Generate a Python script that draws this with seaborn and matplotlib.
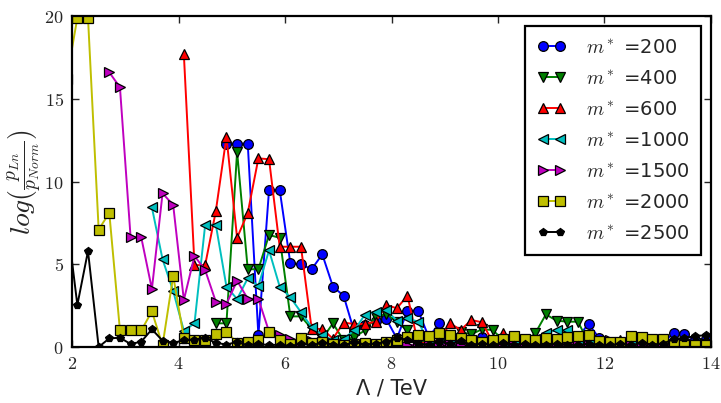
import numpy as np
import pandas as pd
import matplotlib
matplotlib.use("Agg")
import matplotlib.pyplot as plt
import seaborn as sns

# Lambda scan grid (TeV); each mass point starts at its own first Lambda
lam_start = {200: 4.9, 400: 4.7, 600: 4.1, 1000: 3.5, 1500: 2.7, 2000: 1.9, 2500: 1.9}

llr_200 = [12.3, 12.3, 12.3, 0.7, 9.5, 9.5, 5.06, 5.0, 4.7, 5.6, 3.65, 3.1, 0.93, 1.3,
           1.6, 1.7, 0.52, 2.2, 2.2, 0.6, 1.43, 0.3, 0.25, 0.4, 0.6, 0.2, 0.3, 0.2, 0.25,
           0.2, 0.3, 0.2, 0.25, 0.6, 1.39, 0.54, 0.3, 0.2, 0.25, 0.3, 0.2, 0.25, 0.86,
           0.77, 0.4, 0.5]
llr_400 = [1.43, 1.43, 11.8, 4.7, 4.7, 6.77, 6.6, 1.85, 1.85, 1.1, 0.5, 1.43, 0.4, 0.6,
           1.0, 1.8, 2.0, 1.5, 1.0, 0.3, 0.3, 0.4, 0.6, 0.9, 0.77, 1.07, 1.03, 0.4, 0.3,
           0.3, 0.83, 1.97, 1.59, 1.53, 1.53, 0.3, 0.2, 0.15, 0.2, 0.15, 0.2, 0.15, 0.2,
           0.15, 0.2, 0.15, 0.2]
llr_600 = [17.7, 4.95, 4.95, 8.2, 12.7, 6.6, 8.1, 11.4, 11.35, 6.06, 6.06, 6.06, 1.1,
           1.09, 0.5, 1.47, 1.39, 1.39, 1.53, 2.54, 2.34, 3.1, 0.2, 0.3, 0.4, 1.43, 1.03,
           1.63, 1.49, 0.3, 0.86, 0.2, 0.3, 0.2, 0.3, 0.25, 0.2, 0.3, 0.2, 0.25, 0.3,
           0.4, 0.5, 0.3, 0.2, 0.25, 0.2, 0.3, 0.2, 0.2]
llr_1000 = [8.44, 5.3, 3.38, 0.98, 1.43, 7.37, 7.4, 3.65, 2.9, 4.15, 3.7, 5.84, 3.65,
            3.0, 2.1, 1.2, 0.73, 0.4, 0.5, 1.0, 1.95, 2.13, 2.24, 1.59, 1.73, 1.53, 0.3,
            0.2, 0.2, 0.25, 0.2, 0.3, 0.2, 0.25, 0.3, 0.2, 0.5, 0.86, 1.0, 1.0, 0.4, 0.3,
            0.25, 0.2, 0.25, 0.2, 0.3, 0.2, 0.25, 0.2, 0.2, 0.25, 0.2, 0.2]
llr_1500 = [16.6, 15.7, 6.63, 6.63, 3.5, 9.29, 8.58, 2.84, 5.5, 4.65, 2.74, 2.6, 4.0,
            2.92, 2.9, 0.93, 0.75, 0.5, 0.3, 0.35, 0.2, 0.25, 0.15, 0.2, 0.1, 0.2, 0.15,
            0.2, 0.1, 0.15, 0.2, 0.1, 0.2, 0.15, 0.1, 0.2, 0.4, 0.2, 0.15, 0.1, 0.2, 0.15,
            0.1, 0.2, 0.15, 0.1, 0.2, 0.4, 0.2, 0.15, 0.1, 0.2, 0.15, 0.1, 0.1, 0.1, 0.1,
            0.1]
llr_2000 = [16.2, 19.9, 19.9, 7.1, 8.1, 1.0, 1.0, 1.0, 2.15, 0.1, 4.3, 0.55, 0.4, 0.4,
            0.8, 0.93, 0.25, 0.28, 0.42, 0.93, 0.45, 0.2, 0.52, 0.25, 0.3, 0.2, 0.15, 0.2,
            0.25, 0.2, 0.3, 0.42, 0.62, 0.72, 0.66, 0.83, 0.72, 0.52, 0.45, 0.3, 0.4, 0.5,
            0.66, 0.5, 0.45, 0.52, 0.5, 0.62, 0.68, 0.72, 0.35, 0.3, 0.3, 0.66, 0.6, 0.5,
            0.5, 0.2, 0.15, 0.15, 0.15]
llr_2500 = [7.8, 2.54, 5.8, 0.0, 0.52, 0.56, 0.18, 0.32, 1.07, 0.38, 0.25, 0.4, 0.45,
            0.55, 0.25, 0.15, 0.3, 0.1, 0.2, 0.1, 0.15, 0.05, 0.2, 0.1, 0.25, 0.15, 0.1,
            0.3, 0.15, 0.2, 0.3, 0.52, 0.45, 0.2, 0.15, 0.3, 0.2, 0.35, 0.15, 0.2, 0.1,
            0.25, 0.15, 0.2, 0.15, 0.1, 0.2, 0.15, 0.1, 0.2, 0.15, 0.1, 0.2, 0.1, 0.25,
            0.15, 0.2, 0.48, 0.55, 0.65, 0.72]

masses = [200, 400, 600, 1000, 1500, 2000, 2500]
series = [llr_200, llr_400, llr_600, llr_1000, llr_1500, llr_2000, llr_2500]
colors = ["#0000ff", "#008000", "#ff0000", "#00bfbf", "#bf00bf", "#bfbf00", "#000000"]
markers = ["o", "v", "^", "<", ">", "s", "p"]
msizes = [7, 7, 7, 7, 7, 7, 5.5]

x_ticks = [2, 4, 6, 8, 10, 12, 14]
y_ticks = [0, 5, 10, 15, 20]

sns.set_style("ticks")
plt.rcParams["font.family"] = ["DejaVu Sans"]
plt.rcParams["mathtext.fontset"] = "cm"

fig = plt.figure(figsize=(7.21, 4.03), dpi=100)
ax = fig.add_axes([0.0999, 0.139, 0.8862, 0.821])

for m, vals, c, mk, ms in zip(masses, series, colors, markers, msizes):
    lam = np.round(lam_start[m] + 0.2 * np.arange(len(vals)), 1)
    df = pd.DataFrame({"Lambda": lam, "llr": vals})
    sns.lineplot(data=df, x="Lambda", y="llr", ax=ax, color=c, marker=mk,
                 markersize=ms, markeredgecolor="k", markeredgewidth=0.9,
                 linewidth=1.4, label=r"$m^*$ =" + str(m))

ax.set_xlim(2, 14)
ax.set_ylim(0, 20)
ax.set_xticks(x_ticks)
ax.set_yticks(y_ticks)
ax.set_xticklabels([f"${t}$" for t in x_ticks], fontsize=13)
ax.set_yticklabels([f"${t}$" for t in y_ticks], fontsize=13)
ax.tick_params(direction="in", length=5, width=1, top=True, right=True, pad=6)
for sp in ax.spines.values():
    sp.set_linewidth(1.6)
    sp.set_color("k")

ax.set_xlabel("Λ / TeV", fontsize=15, labelpad=4)
ax.set_ylabel(r"$log(\frac{p_{Ln}}{p_{Norm}})$", fontsize=20, labelpad=0)

leg = ax.legend(loc="upper right", numpoints=2, fontsize=14, handlelength=1.5,
                handletextpad=1.0, labelspacing=0.62, borderpad=0.6,
                borderaxespad=0.5, fancybox=False, framealpha=1)
leg.get_frame().set_edgecolor("k")
leg.get_frame().set_linewidth(1.6)

fig.savefig("out.png", dpi=100)
